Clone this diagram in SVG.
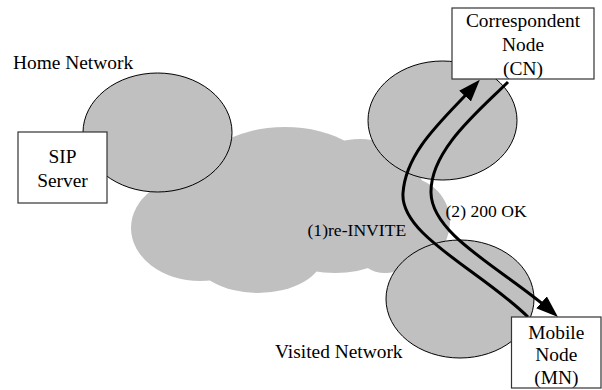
<svg xmlns="http://www.w3.org/2000/svg" width="602" height="390" viewBox="0 0 602 390">
<style>
.cloud{fill:#c0c0c0;stroke:none}
.net{fill:#c0c0c0;stroke:#000;stroke-width:1}
.box{fill:#fff;stroke:#333;stroke-width:1.2}
.t{font-family:"Liberation Serif","Times New Roman",serif;font-size:19.4px;fill:#000}
.lbl{font-family:"Liberation Serif","Times New Roman",serif;font-size:17.6px;fill:#000}
.c{text-anchor:middle}
.arr{fill:none;stroke:#000;stroke-width:3}
</style>
<defs>
<marker id="ah" markerUnits="userSpaceOnUse" markerWidth="22" markerHeight="16" viewBox="0 0 22 16" refX="16" refY="8" orient="auto">
<path d="M0,0 L22,8 L0,16 z" fill="#000"/>
</marker>
</defs>
<rect width="602" height="390" fill="#fff"/>
<g id="core-network">
<ellipse class="cloud" cx="200" cy="228" rx="69" ry="53"/>
<ellipse class="cloud" cx="258" cy="255" rx="65" ry="38"/>
<ellipse class="cloud" cx="285" cy="182" rx="90" ry="55"/>
<ellipse class="cloud" cx="360" cy="185" rx="62" ry="46"/>
<ellipse class="cloud" cx="405" cy="222" rx="45" ry="45"/>
<ellipse class="cloud" cx="335" cy="246" rx="58" ry="27"/>
<ellipse class="cloud" cx="385" cy="255" rx="25" ry="18"/>
</g>
<g id="home-network">
<ellipse class="net" cx="157.5" cy="132.5" rx="74.5" ry="59.5"/>
<text class="t" x="13" y="69">Home Network</text>
</g>
<g id="cn-network">
<ellipse class="net" cx="442.5" cy="120.5" rx="74.5" ry="59.5"/>
</g>
<g id="visited-network">
<ellipse class="net" cx="460" cy="299" rx="74" ry="59"/>
<text class="t" x="275" y="358">Visited Network</text>
</g>
<g id="connectors">
<path class="arr" d="M528,317 C480,270 400,235 403,193 C406,150 445,118 475.8,84.2" marker-end="url(#ah)"/>
<path class="arr" d="M508,82 C480,110 430,150 431,193 C432,236 505,270 553.5,313" marker-end="url(#ah)"/>
<text class="lbl" x="307.5" y="236">(1)re-INVITE</text>
<text class="lbl" x="445.5" y="216.5">(2) 200 OK</text>
</g>
<g id="sip-server">
<rect class="box" x="18" y="132" width="89" height="71"/>
<text class="t c" x="62.5" y="163.3">SIP</text>
<text class="t c" x="62.5" y="186.7">Server</text>
</g>
<g id="correspondent-node">
<rect class="box" x="452" y="8" width="142" height="71"/>
<text class="t c" x="523" y="27">Correspondent</text>
<text class="t c" x="523" y="51">Node</text>
<text class="t c" x="523" y="74.5">(CN)</text>
</g>
<g id="mobile-node">
<rect class="box" x="511.5" y="317" width="89.5" height="71"/>
<text class="t c" x="556.3" y="338.8">Mobile</text>
<text class="t c" x="556.3" y="361.3">Node</text>
<text class="t c" x="556.3" y="383.5">(MN)</text>
</g>
</svg>
